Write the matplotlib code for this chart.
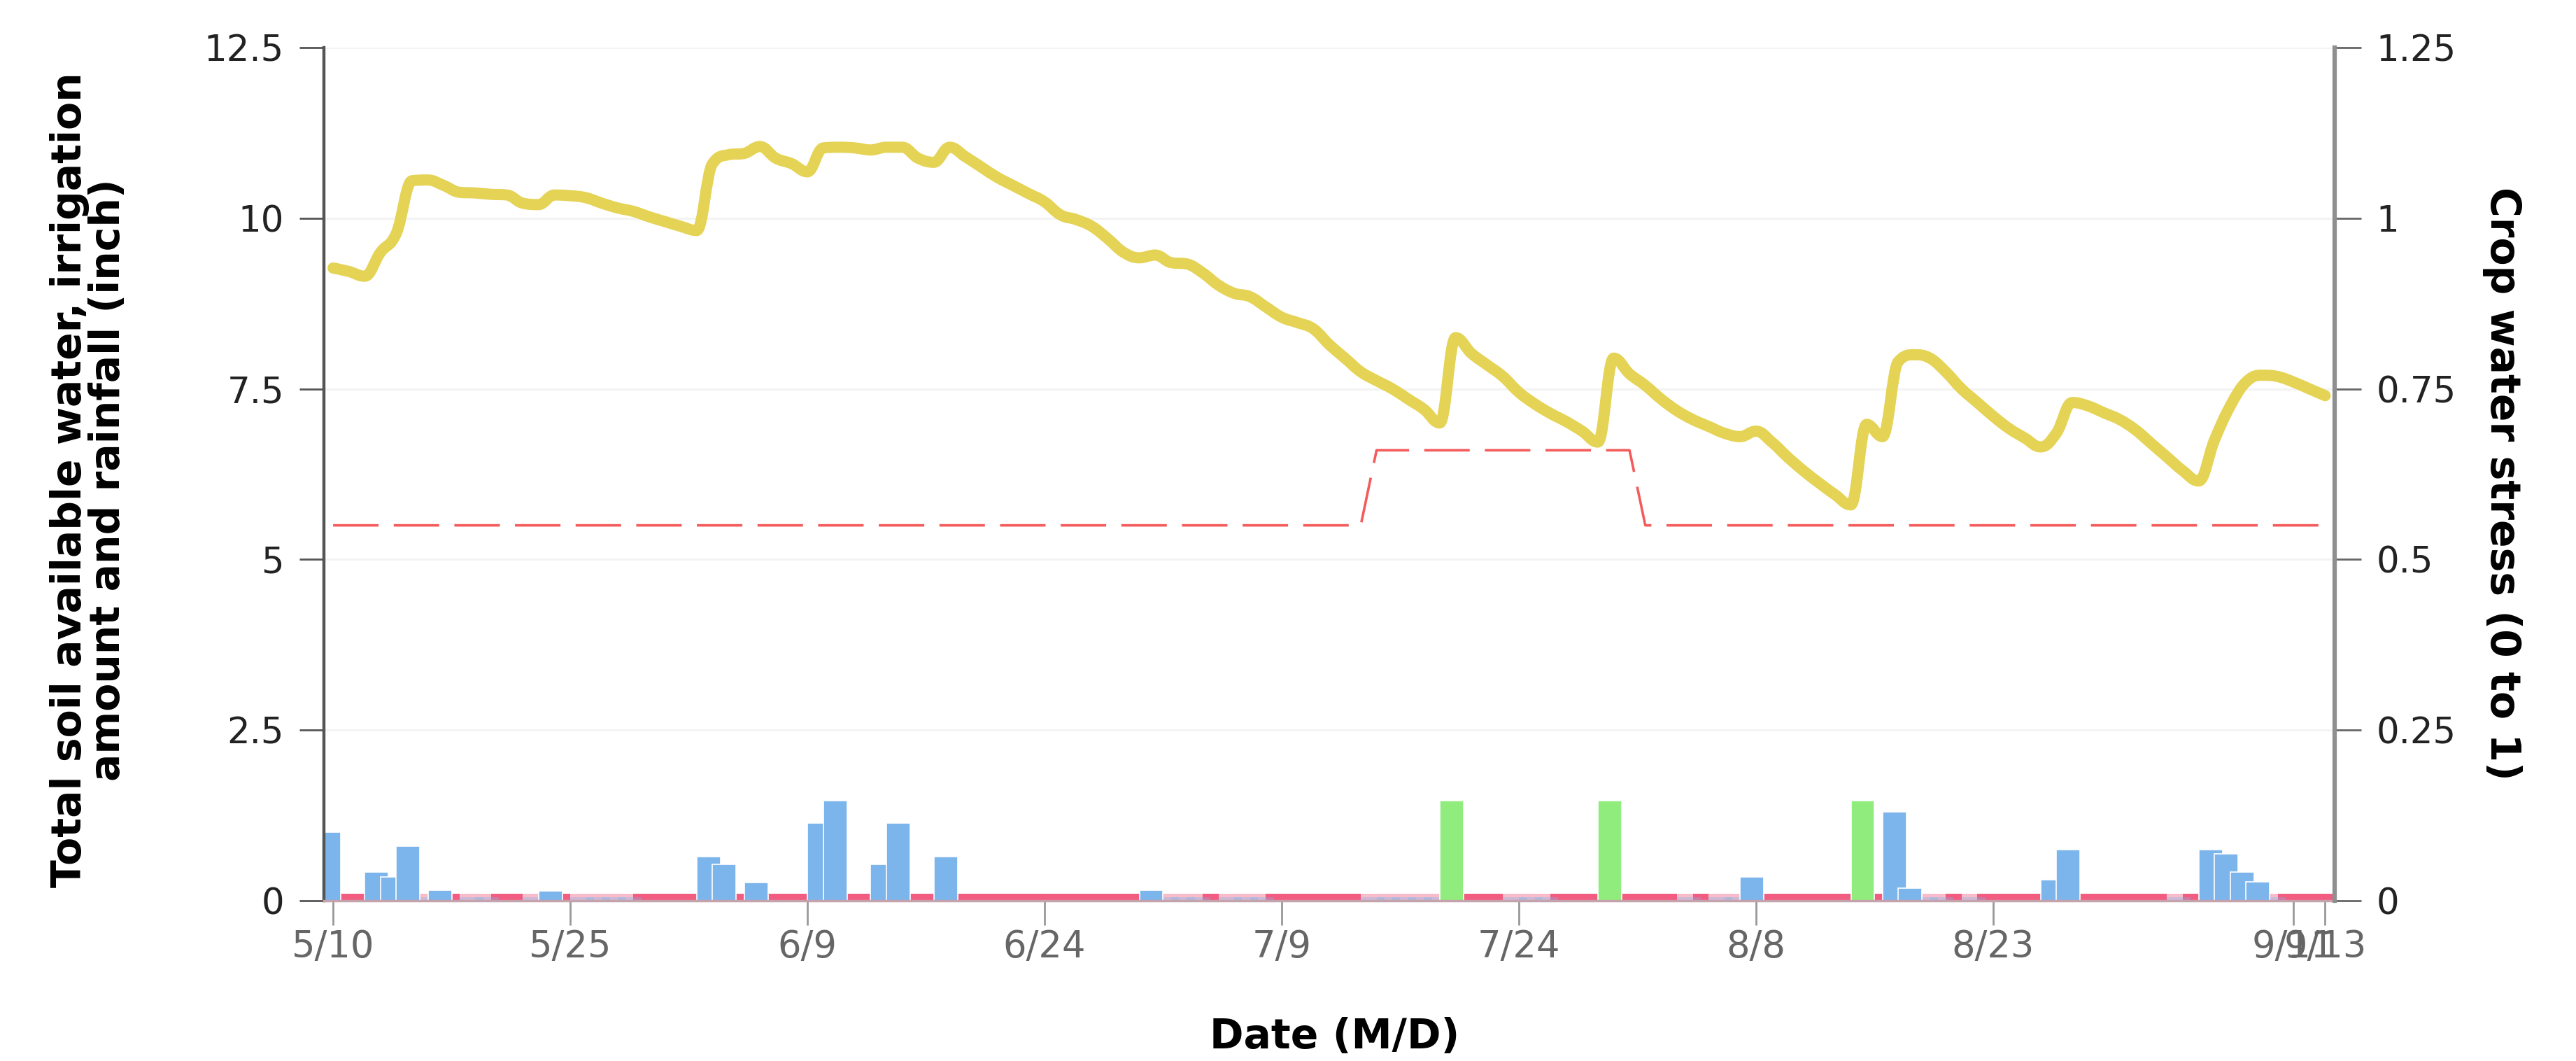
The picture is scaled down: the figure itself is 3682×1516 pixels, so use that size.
import numpy as np
import matplotlib.pyplot as plt
from matplotlib.path import Path
from matplotlib.patches import PathPatch

yellow = '#e4d354'
blue = '#7cb5ec'
green = '#90ed7d'
pink = '#f15c80'
pale_pink = '#f8bccb'
red = '#f45b5b'

# day 0 = 5/10
days = np.arange(127)
soil_water = [
    9.27, 9.22, 9.15, 9.50, 9.78, 10.55, 10.56, 10.48, 10.38, 10.37,
    10.35, 10.34, 10.22, 10.20, 10.34, 10.33, 10.30, 10.22, 10.15, 10.10,
    10.02, 9.95, 9.88, 9.82, 10.80, 10.93, 10.95, 11.05, 10.88, 10.80,
    10.68, 11.03, 11.04, 11.03, 11.00, 11.04, 11.04, 10.88, 10.82, 11.04,
    10.90, 10.75, 10.60, 10.48, 10.36, 10.24, 10.05, 9.98, 9.88, 9.70,
    9.50, 9.42, 9.46, 9.35, 9.33, 9.20, 9.02, 8.90, 8.85, 8.70,
    8.55, 8.47, 8.38, 8.15, 7.95, 7.75, 7.62, 7.50, 7.35, 7.20,
    7.00, 8.25, 8.02, 7.85, 7.68, 7.45, 7.28, 7.14, 7.02, 6.88,
    6.72, 7.95, 7.72, 7.55, 7.35, 7.18, 7.05, 6.95, 6.85, 6.80,
    6.88, 6.72, 6.50, 6.30, 6.12, 5.95, 5.80, 6.98, 6.80, 7.90,
    8.00, 7.95, 7.75, 7.50, 7.30, 7.10, 6.92, 6.78, 6.65, 6.85,
    7.30, 7.25, 7.15, 7.05, 6.90, 6.70, 6.50, 6.30, 6.15, 6.75,
    7.25, 7.60, 7.70, 7.68, 7.60, 7.50, 7.40,
]

et = [
    0.1, 0.1, 0.1, 0.1, 0.1, 0.1, 0.1, 0.1, 0.1, 0.1, 0.1, 0.1, 0.1, 0.1, 0.1, 0.1,
    0.1, 0.1, 0.1, 0.1, 0.1, 0.1, 0.1, 0.1, 0.1, 0.1, 0.1, 0.1, 0.1, 0.1, 0.1, 0.1,
    0.1, 0.1, 0.1, 0.1, 0.1, 0.1, 0.1, 0.1, 0.1, 0.1, 0.1, 0.1, 0.1, 0.1, 0.1, 0.1,
    0.1, 0.1, 0.1, 0.1, 0.1, 0.1, 0.1, 0.1, 0.1, 0.1, 0.1, 0.1, 0.1, 0.1, 0.1, 0.1,
    0.1, 0.1, 0.1, 0.1, 0.1, 0.1, 0.1, 0.1, 0.1, 0.1, 0.1, 0.1, 0.1, 0.1, 0.1, 0.1,
    0.1, 0.1, 0.1, 0.1, 0.1, 0.1, 0.1, 0.1, 0.1, 0.1, 0.1, 0.1, 0.1, 0.1, 0.1, 0.1,
    0.1, 0.1, 0.1, 0.1, 0.1, 0.1, 0.1, 0.1, 0.1, 0.1, 0.1, 0.1, 0.1, 0.1, 0.1, 0.1,
    0.1, 0.1, 0.1, 0.1, 0.1, 0.1, 0.1, 0.1, 0.1, 0.1, 0.1, 0.1, 0.1, 0.1, 0.1,
]

rain_days = [-1, 2, 3, 4, 6, 13, 23, 24, 26, 30, 31, 34, 35, 38, 51,
             89, 98, 99, 108, 109, 118, 119, 120, 121]
rain = [1.0, 0.42, 0.35, 0.80, 0.15, 0.14, 0.65, 0.53, 0.27, 1.14, 1.47, 0.53, 1.14, 0.65, 0.15,
        0.35, 1.30, 0.18, 0.31, 0.745, 0.745, 0.69, 0.42, 0.28]

light_rain_days = [5, 8, 9, 12, 15, 16, 17, 18, 52, 53, 54, 56, 57, 58, 65, 66, 67, 68, 69,
                   74, 75, 76, 85, 87, 88, 100, 101, 103, 116, 122]
light_rain = [0.05, 0.05, 0.05, 0.05, 0.05, 0.05, 0.05, 0.05, 0.05, 0.05, 0.05, 0.05, 0.05, 0.05, 0.05,
              0.05, 0.05, 0.05, 0.05, 0.05, 0.05, 0.05, 0.05, 0.05, 0.05, 0.05, 0.05, 0.05, 0.05, 0.05]

irr_days = [70, 80, 96]
irrigation = [1.47, 1.47, 1.47]

# crop water stress threshold (right axis), vertices of the step
stress_days = [0, 65, 66, 82, 83, 126]
stress = [0.55, 0.55, 0.66, 0.66, 0.55, 0.55]

tick_days = [0, 15, 30, 45, 60, 75, 90, 105, 124, 126]
tick_labels = ['5/10', '5/25', '6/9', '6/24', '7/9', '7/24', '8/8', '8/23', '9/11', '9/13']


def spline_path(x, y, smoothing=1.5):
    # bezier through the points, same idea as a highcharts spline series
    x = np.asarray(x, float)
    y = np.asarray(y, float)
    n = len(x)
    lc = np.column_stack([x, y])
    rc = np.column_stack([x, y])
    denom = smoothing + 1
    for i in range(1, n - 1):
        lx = (smoothing * x[i] + x[i - 1]) / denom
        ly = (smoothing * y[i] + y[i - 1]) / denom
        rx = (smoothing * x[i] + x[i + 1]) / denom
        ry = (smoothing * y[i] + y[i + 1]) / denom
        diff = (ry - ly) * (rx - x[i]) / (rx - lx) + y[i] - ry
        ly += diff
        ry += diff
        if ly > max(y[i - 1], y[i]):
            ly = max(y[i - 1], y[i]); ry = 2 * y[i] - ly
        elif ly < min(y[i - 1], y[i]):
            ly = min(y[i - 1], y[i]); ry = 2 * y[i] - ly
        if ry > max(y[i + 1], y[i]):
            ry = max(y[i + 1], y[i]); ly = 2 * y[i] - ry
        elif ry < min(y[i + 1], y[i]):
            ry = min(y[i + 1], y[i]); ly = 2 * y[i] - ry
        lc[i] = lx, ly
        rc[i] = rx, ry
    verts = [(x[0], y[0])]
    codes = [Path.MOVETO]
    for i in range(1, n):
        verts += [tuple(rc[i - 1]), tuple(lc[i]), (x[i], y[i])]
        codes += [Path.CURVE4] * 3
    return Path(verts, codes)


W, H = 3682, 1516
fig = plt.figure(figsize=(W / 100, H / 100), dpi=100)
ax = fig.add_axes([463 / W, 1 - 1287 / H, (3337 - 463) / W, (1287 - 68) / H])
ax2 = ax.twinx()

# bars
et_colors = [pale_pink if d in light_rain_days else pink for d in days]
ax.bar(days, et, width=1.0, align='edge', color=et_colors, linewidth=0, zorder=2)
ax.bar(light_rain_days, light_rain, width=1.5, align='edge', color=blue, alpha=0.35,
       linewidth=0, zorder=2.2)
ax.bar(rain_days, rain, width=1.5, align='edge', color=blue, edgecolor='white',
       linewidth=1.2, zorder=2.5)
ax.bar(irr_days, irrigation, width=1.5, align='edge', color=green, edgecolor='white',
       linewidth=1.2, zorder=2.5)

# soil water line
ax.add_patch(PathPatch(spline_path(days, soil_water), facecolor='none', edgecolor=yellow,
                       lw=11.5, joinstyle='round', capstyle='round', zorder=3))

# stress threshold
ax2.plot(stress_days, stress, color=red, lw=2.6, dashes=(18, 6), zorder=3)

ax.set_xlim(-0.58, 126.6)
ax.set_ylim(0, 12.5)
ax2.set_ylim(0, 1.25)

ax.set_yticks([0, 2.5, 5, 7.5, 10, 12.5])
ax.set_yticklabels(['0', '2.5', '5', '7.5', '10', '12.5'])
ax2.set_yticks([0, 0.25, 0.5, 0.75, 1, 1.25])
ax2.set_yticklabels(['0', '0.25', '0.5', '0.75', '1', '1.25'])
ax.set_xticks(tick_days)
ax.set_xticklabels(tick_labels)

ax.yaxis.grid(True, color='#f3f3f3', lw=2)
ax.set_axisbelow(True)

for s in ['top', 'right']:
    ax.spines[s].set_visible(False)
for s in ['top', 'left', 'bottom']:
    ax2.spines[s].set_visible(False)
ax.spines['left'].set_color('#555555')
ax.spines['left'].set_linewidth(3.2)
ax.spines['bottom'].set_color('#c4a3ad')
ax.spines['bottom'].set_linewidth(2.5)
ax2.spines['right'].set_color('#8f8f8f')
ax2.spines['right'].set_linewidth(4.5)

ax.tick_params(axis='y', length=25, width=2, color='#555555', pad=16,
               labelsize=37, labelcolor='#222222')
ax.tick_params(axis='x', length=25, width=2, color='#999999', pad=4,
               labelsize=38, labelcolor='#666666')
ax2.tick_params(axis='y', length=27, width=2, color='#666666', pad=16,
                labelsize=37, labelcolor='#222222')

fig.text(127 / W, 0.5475, 'Total soil available water, irrigation\namount and rainfall (inch)',
         rotation=90, ha='center', va='center', fontsize=42, fontweight='bold',
         linespacing=0.95, multialignment='center')
fig.text(3576 / W, 0.544, 'Crop water stress (0 to 1)', rotation=270,
         ha='center', va='center', fontsize=42, fontweight='bold')
fig.text(0.518, 0.0225, 'Date (M/D)', ha='center', va='center',
         fontsize=42, fontweight='bold')

fig.savefig('out.png', dpi=100, facecolor='white')
